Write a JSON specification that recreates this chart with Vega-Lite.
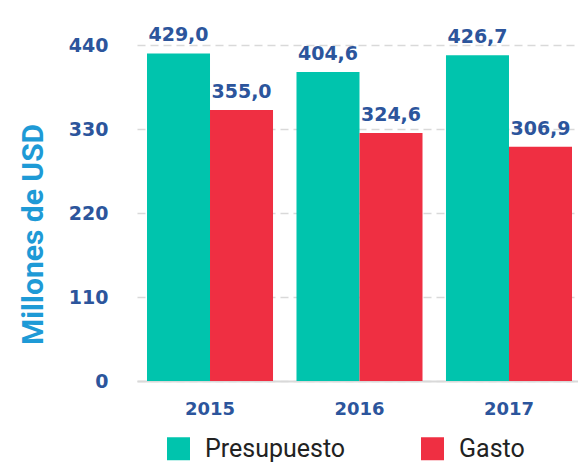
{
  "$schema": "https://vega.github.io/schema/vega-lite/v6.json",
  "width": 441,
  "height": 336,
  "autosize": {"type": "none"},
  "padding": {"left": 137, "top": 45, "right": 0, "bottom": 82},
  "background": "#ffffff",
  "data": {
    "values": [
      {"anio": "2015", "serie": "Presupuesto", "valor": 429.0, "etiqueta": "429,0"},
      {"anio": "2015", "serie": "Gasto", "valor": 355.0, "etiqueta": "355,0"},
      {"anio": "2016", "serie": "Presupuesto", "valor": 404.6, "etiqueta": "404,6"},
      {"anio": "2016", "serie": "Gasto", "valor": 324.6, "etiqueta": "324,6"},
      {"anio": "2017", "serie": "Presupuesto", "valor": 426.7, "etiqueta": "426,7"},
      {"anio": "2017", "serie": "Gasto", "valor": 306.9, "etiqueta": "306,9"}
    ]
  },
  "encoding": {
    "x": {
      "field": "anio",
      "type": "nominal",
      "scale": {"paddingInner": 0.157, "paddingOuter": 0.0535, "align": 0.625},
      "axis": {
        "title": null,
        "labelAngle": 0,
        "ticks": false,
        "labelPadding": 19,
        "labelFont": "DejaVu Sans",
        "labelFontWeight": "bold",
        "labelFontSize": 18,
        "labelColor": "#2c559c",
        "domain": true,
        "domainColor": "#d9d9d9",
        "domainWidth": 2,
        "grid": false
      }
    },
    "xOffset": {"field": "serie", "type": "nominal", "sort": ["Presupuesto", "Gasto"], "scale": {"paddingInner": 0, "paddingOuter": 0}},
    "y": {
      "field": "valor",
      "type": "quantitative",
      "scale": {"domain": [0, 440], "nice": false, "zero": true},
      "axis": {
        "values": [0, 110, 220, 330, 440],
        "title": "Millones de USD",
        "titleFont": "Roboto",
        "titleFontWeight": "bold",
        "titleFontSize": 30,
        "titleColor": "#1e9ad6",
        "titleAngle": -90,
        "titleAlign": "center",
        "titleBaseline": "alphabetic",
        "titleX": -95,
        "titleY": 189,
        "ticks": false,
        "domain": false,
        "labelPadding": 29,
        "labelFont": "DejaVu Sans",
        "labelFontWeight": "bold",
        "labelFontSize": 19,
        "labelColor": "#2c559c",
        "grid": true,
        "gridColor": "#d9d9d9",
        "gridWidth": 1.5,
        "gridDash": [8, 5]
      }
    }
  },
  "layer": [
    {
      "mark": {"type": "bar"},
      "encoding": {
        "color": {
          "field": "serie",
          "type": "nominal",
          "sort": ["Presupuesto", "Gasto"],
          "scale": {"domain": ["Presupuesto", "Gasto"], "range": ["#00c4ad", "#ef2f42"]},
          "legend": {
            "orient": "none",
            "direction": "horizontal",
            "legendX": 29,
            "legendY": 391,
            "title": null,
            "padding": 0,
            "symbolType": "square",
            "symbolSize": 529,
            "symbolStrokeWidth": 0,
            "symbolOpacity": 1,
            "labelFont": "Roboto",
            "labelFontSize": 25,
            "labelColor": "#222222",
            "labelOffset": 14,
            "labelLimit": 300,
            "columnPadding": 74
          }
        }
      }
    },
    {
      "mark": {
        "type": "text",
        "baseline": "alphabetic",
        "align": "center",
        "dy": -12,
        "font": "DejaVu Sans",
        "fontWeight": "bold",
        "fontSize": 19,
        "color": "#2c559c"
      },
      "encoding": {
        "text": {"field": "etiqueta", "type": "nominal"}
      }
    }
  ],
  "config": {
    "view": {"stroke": null}
  }
}
